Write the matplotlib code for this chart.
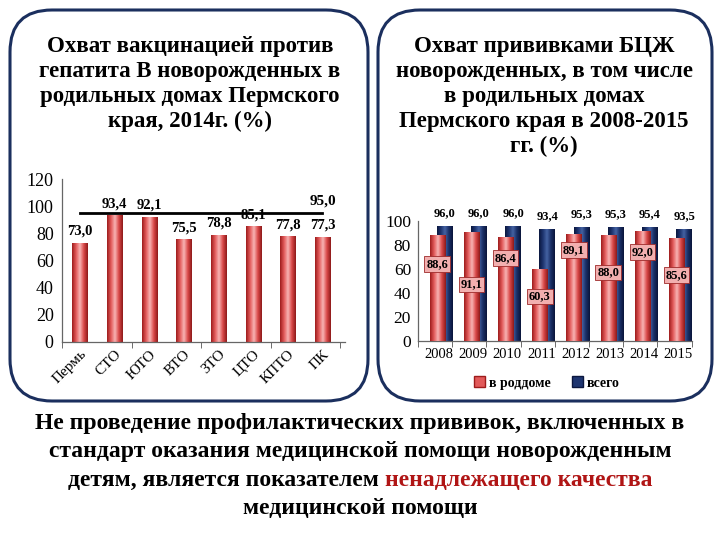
import numpy as np
from matplotlib import pyplot as plt
from matplotlib.patches import FancyBboxPatch, Patch
from matplotlib.colors import LinearSegmentedColormap

plt.rcParams['font.family'] = ['Liberation Serif', 'DejaVu Serif']

# данные: гепатит B, 2014
rayony = ["Пермь", "СТО", "ЮТО", "ВТО", "ЗТО", "ЦТО", "КПТО", "ПК"]
gepatit = [73.0, 93.4, 92.1, 75.5, 78.8, 85.1, 77.8, 77.3]
cel = 95.0

# данные: БЦЖ 2008-2015
gody = ["2008", "2009", "2010", "2011", "2012", "2013", "2014", "2015"]
v_roddome = [88.6, 91.1, 86.4, 60.3, 89.1, 88.0, 92.0, 85.6]
vsego = [96.0, 96.0, 96.0, 93.4, 95.3, 95.3, 95.4, 93.5]

# dove stanno le etichette rosse (solo layout)
pos_etichette = [64, 47, 69, 37, 76, 57, 74, 55]

rossi = LinearSegmentedColormap.from_list("rossi", ["#9E1C1C", "#E25A5A", "#F8B4B4", "#D94848", "#8E1A1A"])
blu = LinearSegmentedColormap.from_list("blu", ["#0B173F", "#1E3570", "#4563A3", "#1A2F66", "#0A153A"])
grad = np.linspace(0, 1, 64).reshape(1, -1)


def cilindro(ax, barre, cmap, z):
    for b in barre:
        b.set_facecolor("none")
        b.set_edgecolor("none")
        x0, y0 = b.get_x(), b.get_y()
        im = ax.imshow(grad, cmap=cmap, aspect="auto", zorder=z,
                       extent=[x0, x0 + b.get_width(), y0, y0 + b.get_height()])
        im.set_clip_path(b)


fig = plt.figure(figsize=(7.2, 5.4), dpi=100)

# sfondo con i riquadri arrotondati, in pixel
bg = fig.add_axes([0, 0, 1, 1], zorder=0)
bg.set_xlim(0, 720)
bg.set_ylim(540, 0)
bg.axis("off")
for (x0, x1) in [(10, 368), (378, 712)]:
    bg.add_patch(FancyBboxPatch((x0, 10), x1 - x0, 391,
                                boxstyle="round,pad=0,rounding_size=42",
                                fc="white", ec="#1B2F5E", lw=2.2))

tit1 = "Охват вакцинацией против\nгепатита В новорожденных в\nродильных домах Пермского\nкрая, 2014г. (%)"
tit2 = "Охват прививками БЦЖ\nноворожденных, в том числе\nв родильных домах\nПермского края в 2008-2015\nгг. (%)"
bg.text(190, 36, tit1, ha="center", va="top", fontsize=16.5, fontweight="bold", linespacing=1.24)
bg.text(544, 36, tit2, ha="center", va="top", fontsize=16.5, fontweight="bold", linespacing=1.24)

# testo in basso
fs = 17
bg.text(360, 424, "Не проведение профилактических прививок, включенных в",
        ha="center", va="center", fontsize=fs, fontweight="bold")
bg.text(360, 452, "стандарт оказания медицинской помощи новорожденным",
        ha="center", va="center", fontsize=fs, fontweight="bold")
bg.text(360, 509, "медицинской помощи",
        ha="center", va="center", fontsize=fs, fontweight="bold")
ta = bg.text(0, 480, "детям, является показателем", ha="left", va="center",
             fontsize=fs, fontweight="bold")
tb = bg.text(0, 480, "ненадлежащего качества", ha="left", va="center",
             fontsize=fs, fontweight="bold", color="#B01515")
fig.canvas.draw()
r = fig.canvas.get_renderer()
wa = ta.get_window_extent(r).width
wb = tb.get_window_extent(r).width
spazio = 6
inizio = 360 - (wa + spazio + wb) / 2
ta.set_x(inizio)
tb.set_x(inizio + wa + spazio)

# grafico sinistro
ax1 = fig.add_axes([62 / 720, 1 - 342 / 540, 283 / 720, 163 / 540], zorder=1)
ax1.patch.set_alpha(0)
x = np.arange(len(rayony))
barre = ax1.bar(x, gepatit, width=0.44)
cilindro(ax1, barre, rossi, 2)
ax1.set_xlim(-0.52, 7.65)
ax1.set_ylim(0, 120)
ax1.set_yticks(range(0, 121, 20))
ax1.tick_params(axis="y", labelsize=13, length=0, pad=6)
ax1.set_xticks(x)
ax1.set_xticklabels(rayony, rotation=45, ha="right", rotation_mode="anchor", fontsize=11)
ax1.tick_params(axis="x", length=0, pad=4)
ax1.set_xticks([-0.52, 1.5, 3.5, 5.5, 7.5], minor=True)
ax1.tick_params(axis="x", which="minor", length=4, color="#555555")
for s in ["top", "right"]:
    ax1.spines[s].set_visible(False)
for s in ["left", "bottom"]:
    ax1.spines[s].set_color("#666666")
    ax1.spines[s].set_linewidth(0.9)
ax1.plot([0, 7], [cel, cel], color="black", lw=2, zorder=3)
for i, v in enumerate(gepatit):
    ax1.text(i, v + 8.5, "{:.1f}".format(v).replace(".", ","), ha="center", va="center",
             fontsize=10.5, fontweight="bold", zorder=4)
ax1.text(7, cel + 9, "{:.1f}".format(cel).replace(".", ","), ha="center", va="center",
         fontsize=11, fontweight="bold", zorder=4)

# grafico destro
ax2 = fig.add_axes([418 / 720, 1 - 341 / 540, 274 / 720, 120 / 540], zorder=1)
ax2.patch.set_alpha(0)
x = np.arange(len(gody))
bb = ax2.bar(x + 0.22, vsego, width=0.46)
cilindro(ax2, bb, blu, 2)
br = ax2.bar(x, v_roddome, width=0.44)
cilindro(ax2, br, rossi, 3)
ax2.set_xlim(-0.56, 7.45)
ax2.set_ylim(0, 100)
ax2.set_yticks(range(0, 101, 20))
ax2.tick_params(axis="y", labelsize=12.5, length=0, pad=5)
ax2.set_xticks(x + 0.05)
ax2.set_xticklabels(gody, fontsize=10.5)
ax2.tick_params(axis="x", length=0, pad=5)
ax2.set_xticks(np.arange(-0.56, 7.5, 1.0), minor=True)
ax2.tick_params(axis="x", which="minor", length=4, color="#555555")
for s in ["top", "right"]:
    ax2.spines[s].set_visible(False)
for s in ["left", "bottom"]:
    ax2.spines[s].set_color("#666666")
    ax2.spines[s].set_linewidth(0.9)
for i, v in enumerate(vsego):
    ax2.text(i + 0.22, v + 10.5, "{:.1f}".format(v).replace(".", ","), ha="center", va="center",
             fontsize=9, fontweight="bold", clip_on=False)
for i, v in enumerate(v_roddome):
    ax2.text(i, pos_etichette[i], "{:.1f}".format(v).replace(".", ","), ha="center", va="center",
             fontsize=9, fontweight="bold", zorder=5,
             bbox=dict(boxstyle="square,pad=0.15", fc="#F2AFAF", ec="#9E2A2A", lw=0.6))

maniglie = [Patch(fc="#E25A5A", ec="#9E1C1C", label="в роддоме"),
            Patch(fc="#1E3570", ec="#0B173F", label="всего")]
ax2.legend(handles=maniglie, loc="center", bbox_to_anchor=(0.47, -0.35), ncol=2, frameon=False,
           prop={"weight": "bold", "size": 10}, handlelength=0.8, handleheight=0.8,
           handletextpad=0.3, columnspacing=1.5)

plt.savefig("out.png", dpi=100)
